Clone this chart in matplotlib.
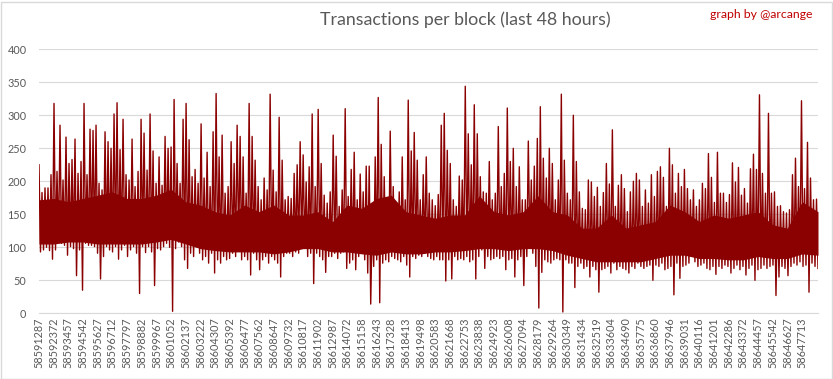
import numpy as np
import matplotlib
matplotlib.use("Agg")
import matplotlib.pyplot as plt
from matplotlib.patches import Rectangle

plt.rcParams['font.family'] = ['Lato', 'DejaVu Sans']

# 48 hours of blocks, one category per block
n_blocks = 57600
label_step = 1085
block_labels = [
    58591287, 58592372, 58593457, 58594542, 58595627, 58596712, 58597797, 58598882,
    58599967, 58601052, 58602137, 58603222, 58604307, 58605392, 58606477, 58607562,
    58608647, 58609732, 58610817, 58611902, 58612987, 58614072, 58615158, 58616243,
    58617328, 58618413, 58619498, 58620583, 58621668, 58622753, 58623838, 58624923,
    58626008, 58627094, 58628179, 58629264, 58630349, 58631434, 58632519, 58633604,
    58634690, 58635775, 58636860, 58637946, 58639031, 58640116, 58641201, 58642286,
    58643372, 58644457, 58645542, 58646627, 58647713,
]

# highest / lowest tx count seen in each slice of blocks, read left to right
hi = [
    225, 183, 190, 190, 210, 318, 215, 285, 202, 267,
    227, 233, 264, 212, 230, 318, 210, 279, 277, 285,
    197, 187, 275, 260, 250, 302, 319, 248, 294, 210,
    202, 264, 192, 215, 294, 273, 217, 302, 246, 197,
    237, 194, 268, 250, 252, 324, 227, 197, 294, 318,
    263, 207, 218, 197, 287, 205, 244, 192, 275, 333,
    237, 270, 182, 192, 260, 227, 285, 268, 237, 182,
    318, 268, 232, 192, 172, 205, 187, 332, 217, 184,
    297, 232, 172, 177, 174, 212, 225, 260, 240, 199,
    222, 302, 192, 309, 227, 179, 167, 184, 270, 238,
    162, 187, 310, 177, 218, 244, 172, 211, 184, 223,
    223, 141, 237, 327, 256, 207, 172, 276, 192, 167,
    184, 237, 172, 323, 246, 274, 232, 172, 210, 237,
    182, 172, 163, 180, 285, 303, 247, 227, 172, 162,
    208, 202, 344, 272, 225, 316, 272, 207, 184, 182,
    230, 172, 182, 283, 192, 212, 311, 230, 250, 192,
    222, 172, 172, 261, 202, 223, 265, 313, 235, 205,
    250, 227, 172, 202, 332, 232, 182, 172, 300, 230,
    184, 159, 157, 202, 199, 177, 191, 162, 183, 227,
    196, 278, 162, 194, 210, 189, 154, 184, 200, 212,
    202, 162, 187, 167, 210, 177, 215, 222, 206, 162,
    250, 225, 182, 212, 192, 218, 189, 172, 187, 162,
    172, 197, 189, 242, 206, 168, 244, 182, 182, 168,
    180, 228, 199, 221, 179, 189, 167, 219, 241, 218,
    331, 212, 182, 303, 182, 184, 162, 163, 154, 152,
    157, 210, 235, 192, 322, 189, 259, 205, 172, 173,
]
lo = [
    93, 96, 100, 95, 82, 96, 108, 106, 103, 88,
    101, 98, 57, 96, 35, 106, 103, 103, 101, 91,
    52, 86, 101, 96, 93, 101, 82, 96, 103, 86,
    96, 101, 91, 30, 101, 92, 101, 93, 42, 98,
    96, 101, 106, 100, 3, 98, 108, 101, 81, 68,
    91, 86, 101, 91, 81, 86, 76, 91, 61, 81,
    76, 86, 81, 83, 91, 86, 96, 81, 86, 81,
    58, 91, 81, 66, 81, 86, 76, 86, 81, 76,
    55, 86, 91, 91, 86, 93, 91, 101, 101, 86,
    91, 45, 91, 86, 81, 62, 86, 86, 91, 83,
    91, 93, 68, 76, 81, 66, 86, 91, 81, 61,
    14, 71, 81, 16, 76, 81, 78, 86, 83, 81,
    78, 86, 73, 55, 86, 83, 88, 86, 91, 86,
    83, 81, 86, 81, 81, 49, 81, 52, 86, 81,
    83, 81, 86, 78, 81, 52, 86, 96, 68, 86,
    81, 83, 86, 83, 86, 66, 81, 83, 55, 81,
    86, 42, 86, 101, 91, 71, 8, 62, 81, 78,
    76, 81, 83, 81, 2, 81, 76, 76, 39, 71,
    76, 68, 71, 55, 71, 66, 32, 66, 68, 71,
    61, 76, 66, 71, 68, 66, 61, 71, 68, 76,
    71, 68, 71, 73, 50, 73, 71, 76, 66, 68,
    71, 28, 76, 53, 71, 73, 76, 91, 78, 71,
    73, 76, 68, 66, 71, 59, 71, 68, 73, 71,
    61, 68, 73, 66, 71, 58, 68, 73, 50, 66,
    68, 73, 68, 71, 73, 27, 55, 71, 68, 57,
    71, 76, 73, 78, 71, 73, 32, 76, 71, 68,
]

# solid part of the band, read at every labelled block plus the last one
core_top = [172, 174, 169, 174, 179, 184, 174, 174, 179, 188,
            169, 164, 154, 149, 164, 154, 164, 149, 149, 154,
            139, 164, 159, 174, 179, 154, 149, 144, 149, 149,
            178, 154, 149, 154, 178, 154, 149, 129, 129, 149,
            129, 134, 139, 164, 154, 139, 149, 144, 149, 154,
            134, 129, 169, 154]
core_bot = [105, 105, 108, 108, 105, 105, 105, 105, 108, 112,
            105, 98, 95, 93, 93, 93, 90, 93, 98, 98,
            93, 93, 90, 88, 93, 90, 90, 93, 93, 95,
            98, 98, 95, 98, 98, 95, 88, 83, 78, 78,
            78, 78, 83, 88, 88, 83, 83, 81, 81, 86,
            83, 83, 90, 88]

red = '#8B0000'
grey = '#595959'
fig = plt.figure(figsize=(8.33, 3.79), dpi=100)
ax = fig.add_axes([39/833, 65.7/379, 779/833, 264/379])

core_x = np.append(np.arange(len(block_labels)) * label_step, n_blocks - 1)
ax.fill_between(core_x, core_bot, core_top, color=red, lw=0)
# peak and trough of each slice, one after the other, as one line
tx = np.column_stack([hi, lo]).ravel()
tx_x = np.linspace(0, n_blocks - 1, len(tx))
ax.plot(tx_x, tx, color=red, lw=1.0)

ax.set_xlim(0, n_blocks - 1)
ax.set_ylim(0, 400)
ax.set_yticks(range(0, 401, 50))
ax.set_xticks(np.arange(len(block_labels)) * label_step)
ax.set_xticklabels([str(b) for b in block_labels], rotation=90)
ax.grid(axis='y', color='#D9D9D9', lw=0.8)
ax.set_axisbelow(True)
for s in ['top', 'right', 'left']:
    ax.spines[s].set_visible(False)
ax.spines['bottom'].set_color('#D9D9D9')
ax.tick_params(axis='both', length=0, labelcolor=grey, labelsize=7.8)
ax.tick_params(axis='x', pad=3)
ax.tick_params(axis='y', pad=9)

fig.text(465/833, 1 - 20/379, 'Transactions per block (last 48 hours)',
         ha='center', va='center', color=grey, fontsize=12.8)
fig.text(812/833, 1 - 15/379, 'graph by @arcange',
         ha='right', va='center', color='#C00000', fontsize=8.8)
fig.patches.append(Rectangle((0.5/833, 0.5/379), 831/833, 377/379,
                             transform=fig.transFigure, fill=False,
                             ec='#D9D9D9', lw=1))

fig.savefig('out.png', dpi=100)
